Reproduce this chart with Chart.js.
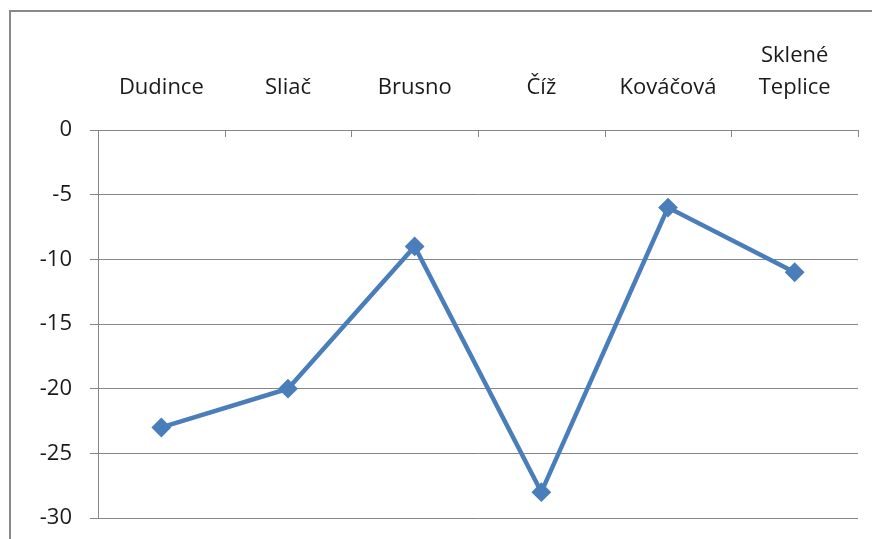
<!DOCTYPE html>
<html>
<head>
<meta charset="utf-8">
<script src="https://cdn.jsdelivr.net/npm/chart.js@4"></script>
<style>
    html, body { margin: 0; padding: 0; background: #fff; overflow: hidden; }
    #wrap { position: relative; width: 872px; height: 539px; }
    #frame { position: absolute; left: 9px; top: 10px; width: 1000px; height: 1000px; border: 2px solid #898989; }
    #myChart { position: absolute; left: 0; top: 0; }
</style>
</head>
<body>
<div id="wrap">
    <div id="frame"></div>
    <canvas id="myChart" width="872" height="539"></canvas>
</div>
<script>
// Datos de la gráfica
const categories = ['Dudince', 'Sliač', 'Brusno', 'Číž', 'Kováčová', ['Sklené', 'Teplice']];
const values = [-23, -20, -9, -28, -6, -11];
const yMin = -30;
const yMax = 0;
const yStep = 5;

const lineColor = '#4a7ebb';
const axisColor = '#868686';
const textColor = '#1a1a1a';
const fontFamily = "'Open Sans', sans-serif";

// Marcas pequeñas del eje de categorías (hacia abajo, como en Excel)
const categoryTicks = {
    id: 'categoryTicks',
    afterDatasetsDraw(chart) {
        const x = chart.scales.x;
        const ctx = chart.ctx;
        const top = chart.chartArea.top;
        ctx.save();
        ctx.strokeStyle = axisColor;
        ctx.lineWidth = 1;
        for (let i = 0; i <= categories.length; i++) {
            const px = Math.round(x.getPixelForValue(i - 0.5)) + 0.5;
            ctx.beginPath();
            ctx.moveTo(px, top);
            ctx.lineTo(px, top + 7);
            ctx.stroke();
        }
        ctx.restore();
    }
};

const ctx = document.getElementById('myChart').getContext('2d');
const chart = new Chart(ctx, {
    type: 'line',
    data: {
        labels: categories,
        datasets: [{
            data: values,
            borderColor: lineColor,
            backgroundColor: lineColor,
            borderWidth: 4.5,
            tension: 0,
            pointStyle: 'rectRot',
            pointRadius: 8.5,
            pointBorderWidth: 2,
            pointBackgroundColor: lineColor,
            pointBorderColor: lineColor,
            fill: false
        }]
    },
    options: {
        responsive: false,
        animation: false,
        layout: { padding: { left: 0, top: 0, right: 14, bottom: 21 } },
        plugins: {
            legend: { display: false },
            tooltip: { enabled: false }
        },
        scales: {
            x: {
                position: 'top',
                offset: true,
                afterFit(scale) {
                    scale.height = 130;
                    scale.paddingLeft = 0;
                    scale.paddingRight = 0;
                },
                grid: { display: false, drawOnChartArea: false, drawTicks: false },
                border: { display: true, color: axisColor, width: 1 },
                ticks: {
                    color: textColor,
                    padding: 26,
                    maxRotation: 0,
                    autoSkip: false,
                    font: { family: fontFamily, size: 22, lineHeight: 1.45 }
                }
            },
            y: {
                min: yMin,
                max: yMax,
                afterFit(scale) {
                    scale.width = 98;
                    scale.paddingTop = 0;
                    scale.paddingBottom = 0;
                },
                grid: { color: axisColor, lineWidth: 1, tickLength: 8, drawTicks: true },
                border: { display: true, color: axisColor, width: 1 },
                ticks: {
                    stepSize: yStep,
                    color: textColor,
                    padding: 18,
                    font: { family: fontFamily, size: 22 }
                }
            }
        }
    },
    plugins: [categoryTicks]
});
</script>
</body>
</html>
